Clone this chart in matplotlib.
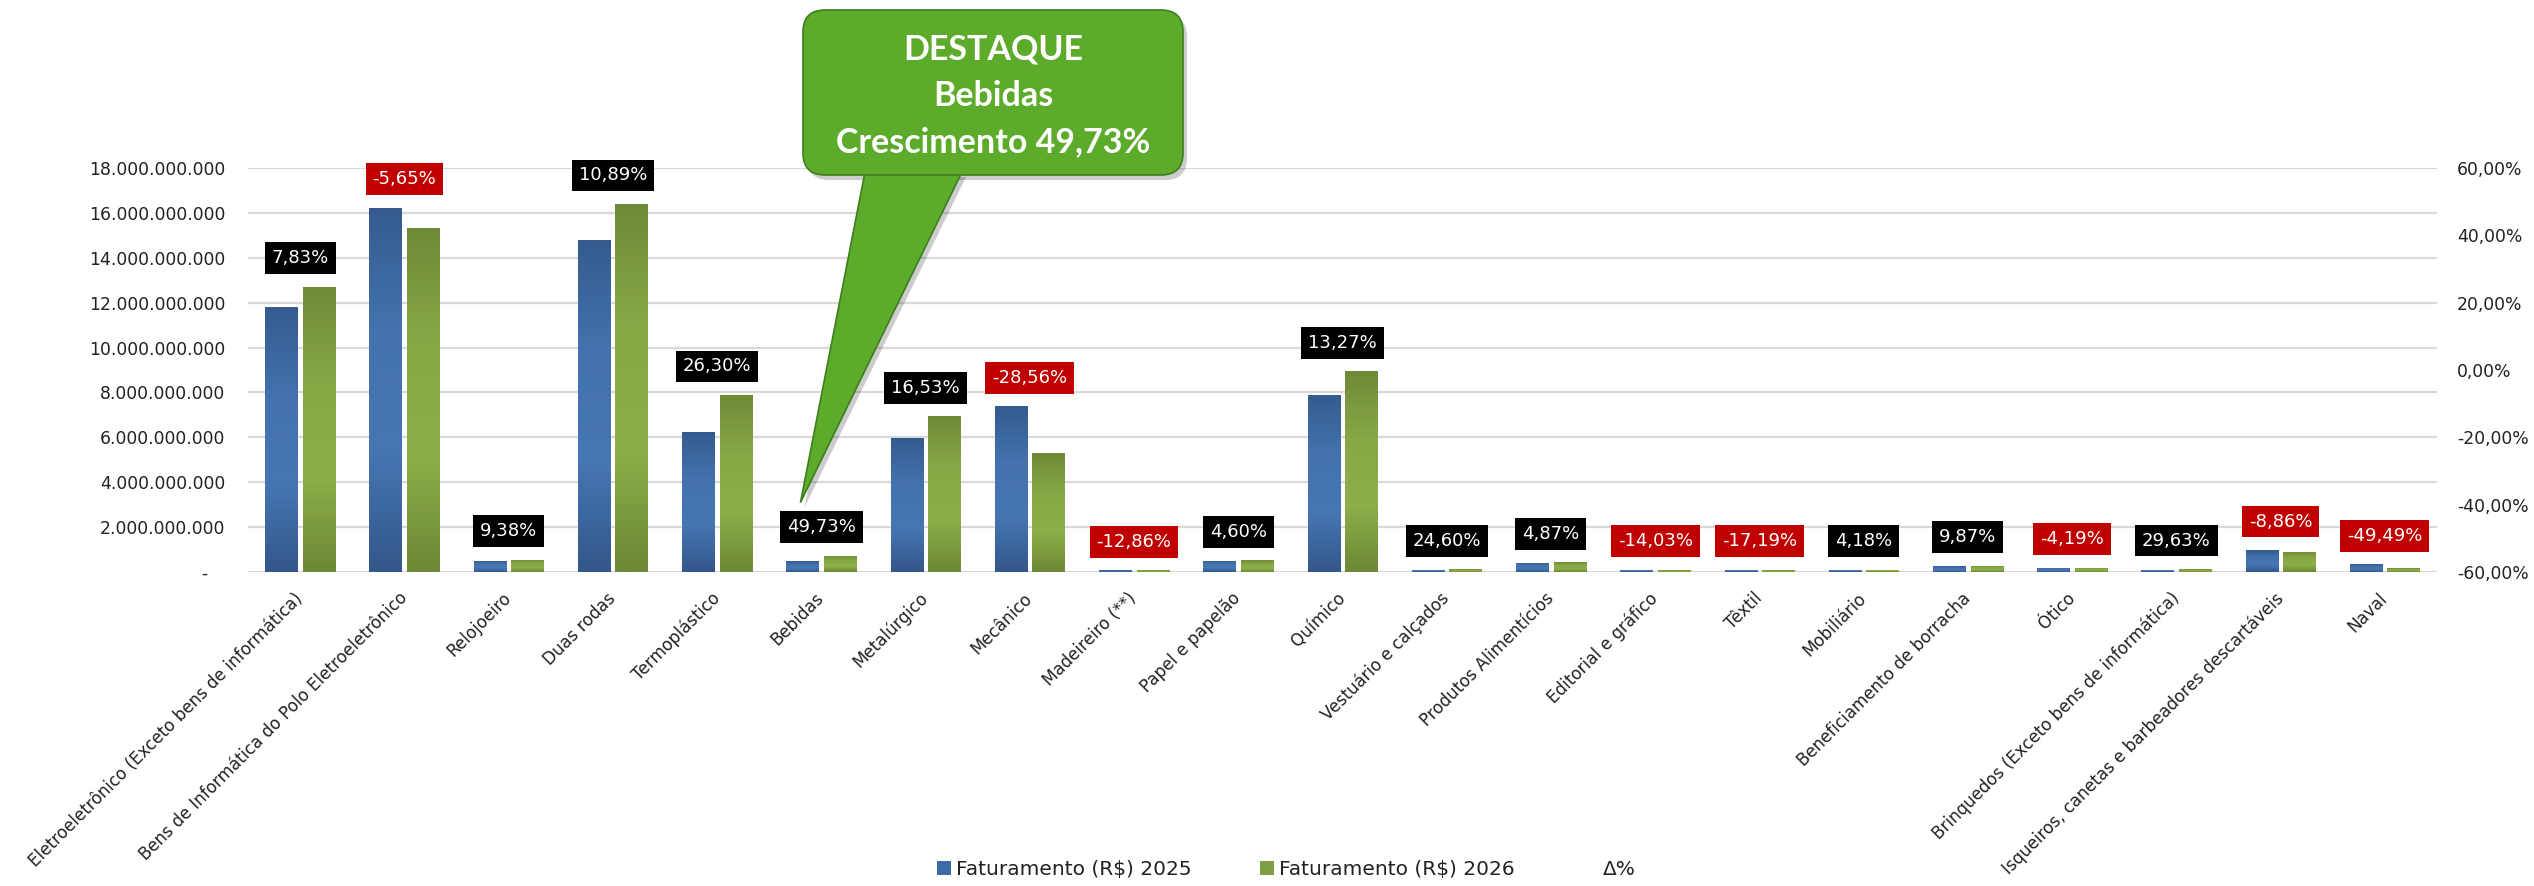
import numpy as np
import matplotlib
matplotlib.use("Agg")
import matplotlib.pyplot as plt
from matplotlib.colors import LinearSegmentedColormap
from matplotlib.patches import FancyBboxPatch, Polygon
from matplotlib.lines import Line2D
from matplotlib.transforms import IdentityTransform
from matplotlib.ticker import FuncFormatter, MultipleLocator

# setores do polo industrial
setores = [
    "Eletroeletrônico (Exceto bens de informática)",
    "Bens de Informática do Polo Eletroeletrônico",
    "Relojoeiro",
    "Duas rodas",
    "Termoplástico",
    "Bebidas",
    "Metalúrgico",
    "Mecânico",
    "Madeireiro (**)",
    "Papel e papelão",
    "Químico",
    "Vestuário e calçados",
    "Produtos Alimentícios",
    "Editorial e gráfico",
    "Têxtil",
    "Mobiliário",
    "Beneficiamento de borracha",
    "Ótico",
    "Brinquedos (Exceto bens de informática)",
    "Isqueiros, canetas e barbeadores descartáveis",
    "Naval",
]

# faturamento em bilhões de R$
fat_2025 = [11.79, 16.23, 0.50, 14.79, 6.25, 0.49, 5.95, 7.39, 0.08, 0.50, 7.90,
            0.10, 0.41, 0.10, 0.10, 0.10, 0.25, 0.19, 0.10, 0.98, 0.34]
fat_2026 = [12.71, 15.31, 0.547, 16.40, 7.89, 0.734, 6.93, 5.28, 0.07, 0.523, 8.95,
            0.125, 0.43, 0.086, 0.083, 0.104, 0.275, 0.182, 0.13, 0.893, 0.172]

# variação percentual
delta = [7.83, -5.65, 9.38, 10.89, 26.30, 49.73, 16.53, -28.56, -12.86, 4.60, 13.27,
         24.60, 4.87, -14.03, -17.19, 4.18, 9.87, -4.19, 29.63, -8.86, -49.49]

destaque = 5  # Bebidas

W, H = 2534, 886
fig = plt.figure(figsize=(W / 100, H / 100), dpi=100)
ax = fig.add_axes([248 / W, 1 - 572 / H, (2437 - 248) / W, (572 - 168) / H])

x = np.arange(len(setores))
v25 = np.array(fat_2025) * 1e9
v26 = np.array(fat_2026) * 1e9
bw = 0.31
off = 0.18

b1 = ax.bar(x - off, v25, bw, color="#3E6AA3", zorder=2)
b2 = ax.bar(x + off, v26, bw, color="#7F9F42", zorder=2)

# gradiente estilo Excel (escuro - claro - escuro)
grad = np.linspace(0, 1, 256).reshape(-1, 1)
cm_azul = LinearSegmentedColormap.from_list("az", ["#33578A", "#4676B3", "#4372AE", "#355B8E"])
cm_verde = LinearSegmentedColormap.from_list("vd", ["#6C8834", "#8DAE49", "#88A846", "#6E8A36"])
for barras, cm in [(b1, cm_azul), (b2, cm_verde)]:
    for r in barras:
        x0 = r.get_x()
        im = ax.imshow(grad, cmap=cm, origin="lower", aspect="auto", zorder=2.5,
                       extent=[x0, x0 + r.get_width(), 0, r.get_height()])
        im.set_clip_path(r)

ax.set_xlim(-0.5, len(setores) - 0.5)
ax.set_ylim(0, 18e9)
ax.yaxis.set_major_locator(MultipleLocator(2e9))


def fmt_reais(v, pos):
    if v == 0:
        return "-   "
    return f"{v:,.0f}".replace(",", ".")


ax.yaxis.set_major_formatter(FuncFormatter(fmt_reais))
ax.yaxis.grid(True, color="#D9D9D9", lw=1.6, zorder=0)
ax.set_axisbelow(True)
for s in ax.spines.values():
    s.set_visible(False)
ax.tick_params(axis="y", length=0, pad=16.5, labelsize=12.4, labelcolor="#222222")
ax.set_xticks(x)
ax.set_xticklabels(setores, rotation=45, ha="right", va="center",
                   rotation_mode="anchor", fontsize=12.1, color="#222222")
ax.tick_params(axis="x", length=0, pad=17)

# eixo secundário com Δ% (linha invisível)
ax2 = ax.twinx()
ax2.plot(x, delta, color="none")
ax2.set_ylim(-60, 60)
ax2.set_yticks(range(-60, 61, 20))
ax2.yaxis.set_major_formatter(FuncFormatter(lambda v, p: f"{v:.2f}%".replace(".", ",")))
ax2.tick_params(axis="y", length=0, pad=14.4, labelsize=12.4, labelcolor="#222222")
for s in ax2.spines.values():
    s.set_visible(False)

# rótulos de variação
for i, d in enumerate(delta):
    topo = max(v25[i], v26[i])
    cor = "#C00000" if d < 0 else "#000000"
    ax.annotate(f"{d:.2f}%".replace(".", ","), (x[i], topo), xytext=(0, 20.5),
                textcoords="offset points", ha="center", va="center",
                color="white", fontsize=13, zorder=6,
                bbox=dict(boxstyle="square,pad=0.38", fc=cor, ec="none"))

# balão de destaque
verde = "#5CAB2B"
borda = "#3E7E1E"
fig.canvas.draw()
tx, ty = ax.transData.transform((x[destaque] - 0.2, max(v25[destaque], v26[destaque])))
ty += 53
cauda = [(865, H - 172), (962, H - 172), (tx, ty)]
sombra_c = Polygon([(px + 4, py - 5) for px, py in cauda], closed=True,
                   transform=IdentityTransform(), fc="black", ec="none", alpha=0.2, zorder=1)
fig.add_artist(sombra_c)
fig.add_artist(Polygon(cauda, closed=True, transform=IdentityTransform(),
                       fc=verde, ec=borda, lw=1.2, zorder=1.2))
sombra_b = FancyBboxPatch((807, H - 180), 380, 165, boxstyle="round,pad=0,rounding_size=22",
                          transform=IdentityTransform(), fc="black", ec="none", alpha=0.2, zorder=1.1)
fig.add_artist(sombra_b)
fig.add_artist(FancyBboxPatch((803, H - 175), 380, 165, boxstyle="round,pad=0,rounding_size=22",
                              transform=IdentityTransform(), fc=verde, ec=borda, lw=1.2, zorder=1.3))
fig.text(993, H - 96, "DESTAQUE\nBebidas\nCrescimento 49,73%", transform=IdentityTransform(),
         ha="center", va="center", ma="center", fontsize=24.5, fontweight="bold",
         family=["Lato", "DejaVu Sans"], color="white", linespacing=1.55, zorder=4)

# legenda
fig.legend([b1, b2, Line2D([], [], color="none")],
           ["Faturamento (R$) 2025", "Faturamento (R$) 2026", "Δ%"],
           loc="center", bbox_to_anchor=(0.5075, 0.019), ncol=3, frameon=False,
           fontsize=14.5, handlelength=0.7, handleheight=0.7, handletextpad=0.25,
           columnspacing=3.4, labelcolor="#222222")

fig.savefig("out.png", dpi=100)
